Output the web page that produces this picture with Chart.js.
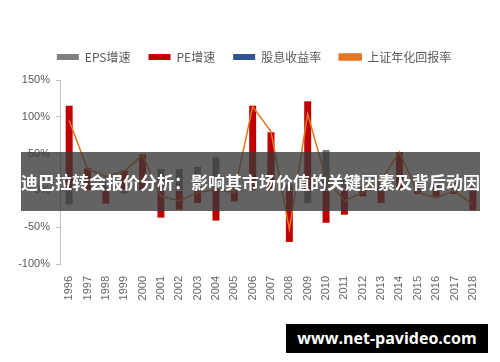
<!DOCTYPE html>
<html>
<head>
<meta charset="utf-8">
<script src="https://cdn.jsdelivr.net/npm/chart.js@4.4.1/dist/chart.umd.min.js"></script>
<style>
  html, body { margin: 0; padding: 0; background: #fff; }
  #wrap { position: relative; width: 500px; height: 362px; overflow: hidden; }
  #banner {
    position: absolute; left: 21px; top: 152px; width: 459px; height: 59px;
    background: rgba(55, 55, 55, 0.78);
    color: #fff; font: bold 17px "Noto Sans CJK SC", sans-serif;
    line-height: 59px; white-space: nowrap; text-align: center;
  }
  #mark {
    position: absolute; left: 286px; top: 324px; width: 202px; height: 29px;
    background: #000; color: #fff; font: bold 16px "Open Sans", "DejaVu Sans", sans-serif;
    line-height: 29px; text-align: center; white-space: nowrap;
  }
</style>
</head>
<body>
<div id="wrap">
  <canvas id="myChart" width="500" height="362"></canvas>
  <div id="banner">迪巴拉转会报价分析：影响其市场价值的关键因素及背后动因</div>
  <div id="mark">www.net-pavideo.com</div>
</div>
<script>
// data (percent)
var years = ["1996", "1997", "1998", "1999", "2000", "2001", "2002", "2003", "2004", "2005", "2006", "2007",
  "2008", "2009", "2010", "2011", "2012", "2013", "2014", "2015", "2016", "2017", "2018"];
var epsGrowth = [-19, 20, 12, -4, 10, 29, 29, 32, 45, 8, 20, 50, 8, -17, 55, 15, 5, 10, 5, 10, 8, 10, 5];
var peGrowth = [115, 30, -18, 27, 49, -37, -26, -17, -41, -15, 115, 79, -70, 121, -44, -33, -8, -17, 52, -5, -8, -5, -27];
var dividendYield = [1, 1, 2, 1, 1, 1, 2, 2, 2, 3, 1, 1, 2, 1, 2, 2, 3, 3, 2, 2, 2, 2, 3];
var indexReturn = [95, 29, 19, 26, 48, -8, -14, -3, 1, -3, 114, 80, -53, 104, 15, -14, -3, 14, 52, -3, -10, -1, -19];
var yTicks = [-100, -50, 0, 50, 100, 150];

var seriesNames = ["EPS增速", "PE增速", "股息收益率", "上证年化回报率"];

// legend block: fixed height so the plot starts at the same place,
// and moved a bit right to sit over the middle like the original
var legendPlace = {
  id: "legendPlace",
  beforeInit: function (chart) {
    var origFit = chart.legend.fit;
    chart.legend.fit = function () {
      origFit.bind(chart.legend)();
      this.height = 47;
    };
  },
  afterLayout: function (chart) {
    chart.legend.left = 26;
  },
};

var ctx = document.getElementById("myChart").getContext("2d");
var myChart = new Chart(ctx, {
  type: "bar",
  data: {
    labels: years,
    datasets: [
      {
        label: seriesNames[0],
        data: epsGrowth,
        backgroundColor: "#7f7f7f",
        grouped: false,
        order: 3,
      },
      {
        label: seriesNames[1],
        data: peGrowth,
        backgroundColor: "#c00000",
        grouped: false,
        order: 2,
      },
      {
        label: seriesNames[2],
        data: dividendYield,
        backgroundColor: "#2f5597",
        grouped: false,
        order: 4,
      },
      {
        type: "line",
        label: seriesNames[3],
        data: indexReturn,
        borderColor: "#e5761f",
        backgroundColor: "#e5761f",
        borderWidth: 1.5,
        pointRadius: 0,
        tension: 0,
        order: 0,
      },
    ],
  },
  options: {
    responsive: false,
    animation: false,
    categoryPercentage: 1,
    barPercentage: 0.38,
    layout: {
      padding: { left: 0, right: 18, top: 33, bottom: 0 },
    },
    plugins: {
      legend: {
        position: "top",
        labels: {
          boxWidth: 22,
          boxHeight: 6,
          padding: 18,
          color: "#595959",
          font: { family: "'Noto Sans CJK SC', sans-serif", size: 12 },
          sort: function (a, b) {
            return a.datasetIndex - b.datasetIndex;
          },
        },
      },
      tooltip: { enabled: false },
    },
    scales: {
      x: {
        grid: { display: false },
        border: { display: false },
        ticks: {
          color: "#666666",
          font: { family: "'Liberation Sans', Arial, sans-serif", size: 11 },
          maxRotation: 90,
          minRotation: 90,
          padding: 4,
        },
        afterFit: function (scale) {
          scale.height = 98;
        },
      },
      y: {
        min: -100,
        max: 150,
        afterBuildTicks: function (scale) {
          scale.ticks = yTicks.map(function (v) {
            return { value: v };
          });
        },
        grid: {
          drawOnChartArea: false,
          drawTicks: true,
          tickLength: 4,
          color: "#bfbfbf",
        },
        border: { display: true, color: "#bfbfbf", width: 1 },
        ticks: {
          color: "#595959",
          font: { family: "'Liberation Sans', Arial, sans-serif", size: 11 },
          padding: 6,
          callback: function (v) {
            return v + "%";
          },
        },
        afterFit: function (scale) {
          scale.width = 60;
        },
      },
    },
  },
  plugins: [legendPlace],
});
</script>
</body>
</html>
